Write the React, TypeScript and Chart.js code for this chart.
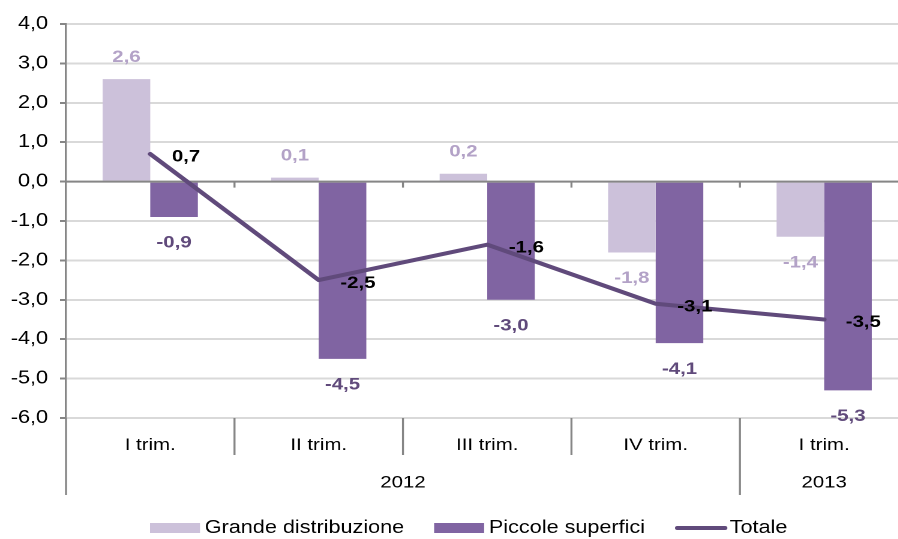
import React, { useEffect, useRef } from "react";
import { Chart, registerables } from "chart.js";

Chart.register(...registerables);

// ---------- data ----------
const categories = ["I trim.", "II trim.", "III trim.", "IV trim.", "I trim."];
const years = ["2012", "2013"];
const yearFirstCat = [0, 4];
const yearLastCat = [3, 4];
const grande = [2.6, 0.1, 0.2, -1.8, -1.4];
const piccole = [-0.9, -4.5, -3.0, -4.1, -5.3];
const totale = [0.7, -2.5, -1.6, -3.1, -3.5];
const seriesNames = ["Grande distribuzione", "Piccole superfici", "Totale"];
const yMin = -6;
const yMax = 4;
const yStep = 1;

// ---------- styles ----------
// The reference is rendered horizontally stretched; the chart is drawn
// narrower and stretched with a CSS transform to reproduce that look.
const SX = 1.2;
const CW = 758;
const CH = 539;
const FONT = '"Liberation Sans", Arial, sans-serif';
const AXIS = "#868686";
const GRID = "#D9D9D9";
const COL_GRANDE = "#CCC1DA";
const COL_PICCOLE = "#8064A2";
const COL_TOTALE = "#604A7B";
const LABEL_COLORS = ["#B3A2C7", "#604A7B", "#000000"];
const VLINE = 2 / SX;

const fmt = (v: number) => v.toFixed(1).replace(".", ",");

const decor = {
  id: "decor",
  beforeDatasetDraw(chart: any, args: any) {
    if (args.index !== 2) return;
    const { ctx, chartArea, scales } = chart;
    const x = scales.x;
    const y = scales.y;
    const y0 = y.getPixelForValue(0);
    ctx.save();
    ctx.strokeStyle = AXIS;
    ctx.lineWidth = 2;
    ctx.beginPath();
    ctx.moveTo(chartArea.left, y0);
    ctx.lineTo(chartArea.right, y0);
    ctx.stroke();
    ctx.lineWidth = VLINE;
    ctx.beginPath();
    for (let i = 1; i <= categories.length; i++) {
      const bx = x.getPixelForValue(i - 0.5);
      ctx.moveTo(bx, y0);
      ctx.lineTo(bx, y0 + 6);
    }
    ctx.stroke();
    ctx.restore();
  },
  afterDatasetsDraw(chart: any) {
    const ctx = chart.ctx;
    ctx.save();
    ctx.font = `bold 17px ${FONT}`;
    ctx.textBaseline = "middle";
    chart.data.datasets.forEach((ds: any, di: number) => {
      const meta = chart.getDatasetMeta(di);
      meta.data.forEach((el: any, i: number) => {
        const v = ds.data[i] as number;
        const txt = fmt(v);
        ctx.fillStyle = LABEL_COLORS[di];
        if (meta.type === "bar") {
          ctx.textAlign = "center";
          ctx.fillText(txt, el.x, v >= 0 ? el.y - 22 : el.y + 26);
        } else {
          ctx.textAlign = "left";
          ctx.fillText(txt, el.x + 18, el.y + 3);
        }
      });
    });
    ctx.restore();
  },
  afterDraw(chart: any) {
    const { ctx, chartArea, scales } = chart;
    const x = scales.x;
    const bottom = chartArea.bottom;
    const catRowBottom = bottom + 37;
    const yearRowBottom = bottom + 77;
    ctx.save();
    ctx.strokeStyle = AXIS;
    ctx.lineWidth = VLINE;
    ctx.beginPath();
    // value axis continues down through the label rows
    ctx.moveTo(chartArea.left, bottom);
    ctx.lineTo(chartArea.left, yearRowBottom);
    for (let i = 1; i <= categories.length; i++) {
      const bx = x.getPixelForValue(i - 0.5);
      const isYearEdge = yearLastCat.includes(i - 1);
      ctx.moveTo(bx, bottom);
      ctx.lineTo(bx, isYearEdge ? yearRowBottom : catRowBottom);
    }
    ctx.stroke();

    // year labels
    ctx.font = `17px ${FONT}`;
    ctx.fillStyle = "#000";
    ctx.textAlign = "center";
    ctx.textBaseline = "middle";
    years.forEach((yr, k) => {
      const a = x.getPixelForValue(yearFirstCat[k] - 0.5);
      const b = x.getPixelForValue(yearLastCat[k] + 0.5);
      ctx.fillText(yr, (a + b) / 2, bottom + 65);
    });

    // legend
    ctx.font = `18px ${FONT}`;
    ctx.textAlign = "left";
    const ly = 528;
    let lx = 150 / SX;
    const sw = 50 / SX;
    const swatchColors = [COL_GRANDE, COL_PICCOLE];
    seriesNames.forEach((name, k) => {
      if (k < 2) {
        ctx.fillStyle = swatchColors[k];
        ctx.fillRect(lx, ly - 5, sw, 10);
      } else {
        ctx.strokeStyle = COL_TOTALE;
        ctx.lineWidth = 4;
        ctx.lineCap = "round";
        ctx.beginPath();
        ctx.moveTo(lx + 2, ly);
        ctx.lineTo(lx + sw, ly);
        ctx.stroke();
      }
      lx += sw + 4;
      ctx.fillStyle = "#000";
      ctx.fillText(name, lx, ly);
      lx += ctx.measureText(name).width + 25;
    });
    ctx.restore();
  },
};

export default function App() {
  const ref = useRef<HTMLCanvasElement | null>(null);

  useEffect(() => {
    if (!ref.current) return;
    const chart = new Chart(ref.current, {
      type: "bar",
      data: {
        labels: categories,
        datasets: [
          {
            label: seriesNames[0],
            data: grande,
            backgroundColor: COL_GRANDE,
            borderWidth: 0,
            categoryPercentage: 0.565,
            barPercentage: 1,
            order: 1,
          },
          {
            label: seriesNames[1],
            data: piccole,
            backgroundColor: COL_PICCOLE,
            borderWidth: 0,
            categoryPercentage: 0.565,
            barPercentage: 1,
            order: 1,
          },
          {
            type: "line",
            label: seriesNames[2],
            data: totale,
            borderColor: COL_TOTALE,
            backgroundColor: COL_TOTALE,
            borderWidth: 4,
            pointRadius: 0,
            tension: 0,
            borderJoinStyle: "round",
            borderCapStyle: "round",
            order: 0,
          } as any,
        ],
      },
      options: {
        responsive: false,
        maintainAspectRatio: false,
        animation: false,
        devicePixelRatio: 2,
        layout: { padding: { top: 24, right: 1, left: 0, bottom: 0 } },
        plugins: {
          legend: { display: false },
          tooltip: { enabled: false },
        },
        scales: {
          x: {
            type: "category",
            grid: { display: false, drawTicks: false },
            border: { display: false },
            ticks: {
              color: "#000",
              font: { family: FONT, size: 17 },
              padding: 17,
              maxRotation: 0,
              autoSkip: false,
            },
            afterFit: (scale: any) => {
              scale.height = 121;
            },
          },
          y: {
            min: yMin,
            max: yMax,
            grid: {
              color: GRID,
              lineWidth: 2,
              tickColor: AXIS,
              tickLength: 5,
              tickWidth: 2,
            },
            border: { display: true, color: AXIS, width: VLINE },
            ticks: {
              stepSize: yStep,
              color: "#000",
              font: { family: FONT, size: 18 },
              padding: 10,
              callback: (v: any) => fmt(Number(v)),
            },
            afterFit: (scale: any) => {
              scale.width = 55;
            },
          },
        },
      },
      plugins: [decor],
    });
    return () => chart.destroy();
  }, []);

  return (
    <div
      style={{
        position: "fixed",
        left: 0,
        top: 0,
        width: 898,
        height: 539,
        overflow: "hidden",
        background: "#fff",
      }}
    >
      <div
        style={{
          width: CW,
          height: CH,
          transform: `scaleX(${SX})`,
          transformOrigin: "0 0",
        }}
      >
        <canvas
          ref={ref}
          width={CW}
          height={CH}
          style={{ display: "block", width: CW, height: CH }}
        />
      </div>
    </div>
  );
}
